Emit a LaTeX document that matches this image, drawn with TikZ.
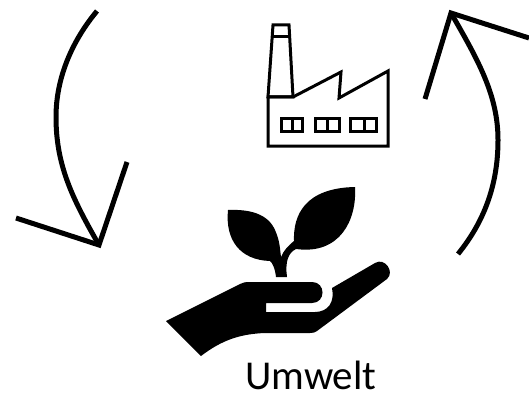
\documentclass[tikz,border=0pt]{standalone}
\usepackage{fontspec}
\setmainfont{Carlito}
\tikzset{
    arrowline/.style={line width=5pt,black},
    factoryline/.style={line width=3pt,black,line join=miter},
    plantfill/.style={fill=black,draw=none}
}
\begin{document}
\begin{tikzpicture}[x=1pt,y=-1pt]
            \useasboundingbox (0,0) rectangle (529,393);
            % define point
            \coordinate (LS)  at (97,11);
            \coordinate (LM)  at (56,117);
            \coordinate (LT)  at (99,245);
            \coordinate (LA)  at (16,218);
            \coordinate (LB)  at (127,162);
            \coordinate (RS)  at (458,254);
            \coordinate (RM)  at (498,140);
            \coordinate (RT)  at (451,13);
            \coordinate (RA)  at (425,99);
            \coordinate (RB)  at (529,38);
            % left arrow
            \draw[arrowline] (LS) .. controls (72,41) and (56,78) .. (LM)
                .. controls (56,165) and (72,198) .. (LT);
            \draw[arrowline,line join=miter] (LA) -- (LT) -- (LB);
            % right arrow
            \draw[arrowline] (RS) .. controls (484,222) and (498,185) .. (RM)
                .. controls (498,95) and (478,60) .. (RT);
            \draw[arrowline,line join=miter] (RA) -- (RT) -- (RB);
            % factory
            \draw[factoryline] (273,25) -- (289,25) -- (293,97) -- (268,97) -- cycle;
            \draw[factoryline] (271.5,37) -- (290,37);
            \draw[factoryline] (268,97) -- (293,97) -- (341,72) -- (339,98) -- (388,71)
                -- (388,146) -- (268,146) -- cycle;
            \foreach \xa/\xb/\xc in {281/292/302, 315/327/339, 350/364/376}
                \draw[factoryline] (\xa,118) rectangle (\xc,131) (\xb,118) -- (\xb,131);
            % leaves and stem
            \fill[plantfill] (228,210) .. controls (250,209) and (268,214) .. (275,230)
                .. controls (280,241) and (280,250) .. (281,257)
                .. controls (284,250) and (288,246) .. (294,241)
                .. controls (293,215) and (305,188) .. (355,187)
                .. controls (357,220) and (340,255) .. (296,249)
                .. controls (288,253) and (285,262) .. (287,277)
                -- (276,277)
                .. controls (275,268) and (272,262) .. (270,261)
                .. controls (240,260) and (225,240) .. (228,210) -- cycle;
            % hand
            \fill[plantfill] (166,321) -- (240,284)
                .. controls (243,282.5) and (245,282) .. (250,282) -- (312,282)
                .. controls (326,282) and (326,303) .. (312,303) -- (266,303) -- (266,312)
                -- (315,312) .. controls (328,312) and (335,302) .. (332,288)
                -- (375,263) .. controls (385,257) and (395,272) .. (387,279)
                -- (317,331) .. controls (315,332.5) and (313,333) .. (310,333) -- (265,333)
                .. controls (240,334) and (222,340) .. (201,356) -- cycle;
            % label
            \node[anchor=base west,inner sep=0pt,font=\fontsize{41}{41}\selectfont] (umwelt) at (245,389) {Umwelt};
        \end{tikzpicture}
\end{document}
